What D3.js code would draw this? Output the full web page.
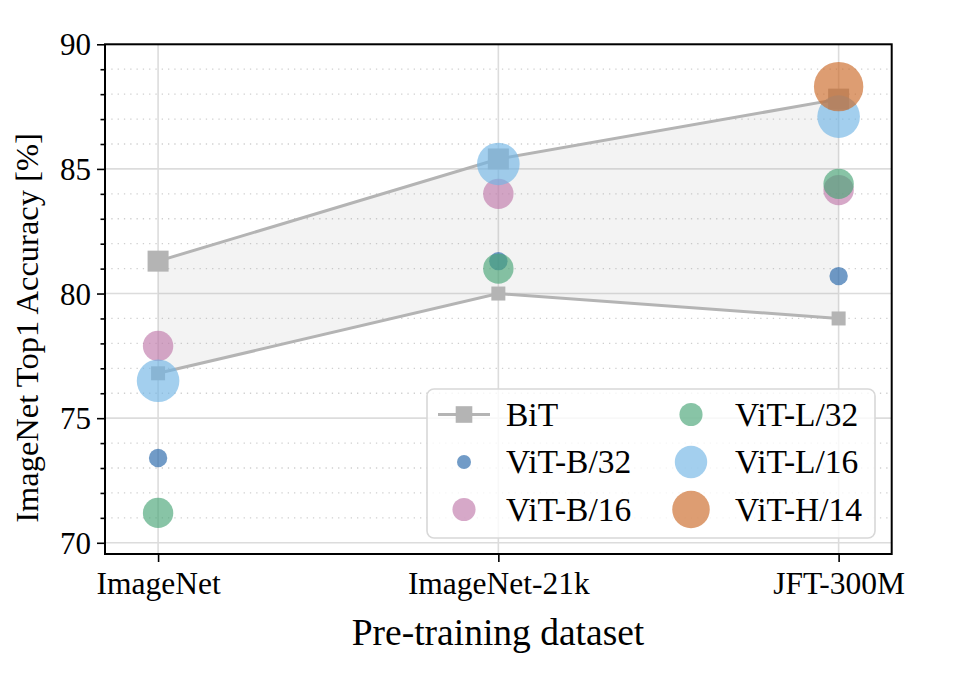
<!DOCTYPE html>
<html><head><meta charset="utf-8">
<script src="https://cdn.jsdelivr.net/npm/d3@7"></script>
<style>body{margin:0;background:#fff}svg{display:block}text{font-family:"Liberation Serif","Times New Roman",serif;fill:#000}</style>
</head><body><svg id="c" width="953" height="698"></svg>
<script>
const categories = ["ImageNet", "ImageNet-21k", "JFT-300M"];
const bitUpper = [81.3, 85.4, 87.8];
const bitLower = [76.8, 80.0, 79.0];
const vitB32 = [73.4, 81.3, 80.7];
const vitB16 = [77.9, 84.0, 84.15];
const vitL32 = [71.2, 81.0, 84.4];
const vitL16 = [76.5, 85.2, 87.1];
const vitH14 = [null, null, 88.3];
const yTicks = [70, 75, 80, 85, 90];
const yMinor = [70,71,72,73,74,75,76,77,78,79,80,81,82,83,84,85,86,87,88,89,90];

const series = [
  {name: "ViT-B/32", values: vitB32, color: "#2565a9", r: 9.2},
  {name: "ViT-B/16", values: vitB16, color: "#c079aa", r: 15.2},
  {name: "ViT-L/32", values: vitL32, color: "#48a476", r: 15.2},
  {name: "ViT-L/16", values: vitL16, color: "#71b5e5", r: 21.3},
  {name: "ViT-H/14", values: vitH14, color: "#cb6826", r: 24.7}
];
const ALPHA = 0.65;
const BITC = "#b4b4b4";

const svg = d3.select("#c");
const L = 105, R = 891.7, T = 44.3, B = 554;
const x = d3.scaleLinear().domain([-0.156, 2.156]).range([L, R]);
const y = d3.scaleLinear().domain([69.55, 90]).range([B, T]);

// grid
const g = svg.append("g");
g.selectAll(".mi").data(yMinor.filter(v => !yTicks.includes(v))).join("line")
  .attr("x1", L).attr("x2", R).attr("y1", d => y(d)).attr("y2", d => y(d))
  .attr("stroke", "#cfcfcf").attr("stroke-width", 1.3).attr("stroke-dasharray", "1.3,5");
g.selectAll(".ma").data(yTicks).join("line")
  .attr("x1", L).attr("x2", R).attr("y1", d => y(d)).attr("y2", d => y(d))
  .attr("stroke", "#dcdcdc").attr("stroke-width", 1.6);
g.selectAll(".vx").data(categories).join("line")
  .attr("x1", (d,i) => x(i)).attr("x2", (d,i) => x(i)).attr("y1", T).attr("y2", B)
  .attr("stroke", "#dcdcdc").attr("stroke-width", 1.6);

// BiT band
const idx = categories.map((d,i) => i);
const area = d3.area().x(i => x(i)).y0(i => y(bitLower[i])).y1(i => y(bitUpper[i]));
svg.append("path").attr("d", area(idx)).attr("fill", "#a0a0a0").attr("fill-opacity", 0.12);
const line = d3.line().x(d => x(d[0])).y(d => y(d[1]));
[[bitUpper, 21], [bitLower, 14]].forEach(([vals, s]) => {
  svg.append("path").attr("d", line(vals.map((v,i) => [i, v])))
    .attr("fill", "none").attr("stroke", BITC).attr("stroke-width", 3);
  svg.selectAll(null).data(vals).join("rect")
    .attr("x", (d,i) => x(i) - s/2).attr("y", d => y(d) - s/2)
    .attr("width", s).attr("height", s).attr("fill", BITC);
});

// scatter
series.forEach(s => {
  svg.append("g").selectAll("circle")
    .data(s.values.map((v,i) => [i, v]).filter(d => d[1] != null))
    .join("circle").attr("cx", d => x(d[0])).attr("cy", d => y(d[1]))
    .attr("r", s.r).attr("fill", s.color).attr("fill-opacity", ALPHA);
});

// axes
const yAx = svg.append("g").attr("transform", `translate(${L},0)`)
  .call(d3.axisLeft(y).tickValues(yTicks).tickSize(8).tickPadding(6).tickFormat(d3.format("d")));
yAx.selectAll(".tick text").style("font-size", "31px").attr("dy", "0.34em");
svg.append("g").attr("transform", `translate(${L},0)`)
  .call(d3.axisLeft(y).tickValues(yMinor.filter(v => !yTicks.includes(v))).tickSize(4.5).tickFormat(""))
  .select(".domain").remove();
const xAx = svg.append("g").attr("transform", `translate(0,${B})`)
  .call(d3.axisBottom(x).tickValues(idx).tickSize(8).tickPadding(10).tickFormat(i => categories[i]));
xAx.selectAll(".tick text").style("font-size", "31.5px");
[yAx, xAx].forEach(a => { a.select(".domain").remove(); });
svg.selectAll(".tick line").attr("stroke", "#000").attr("stroke-width", 1.6);
svg.append("rect").attr("x", L).attr("y", T).attr("width", R - L).attr("height", B - T)
  .attr("fill", "none").attr("stroke", "#000").attr("stroke-width", 2);

svg.append("text").attr("x", 498).attr("y", 645).attr("text-anchor", "middle")
  .style("font-size", "37.5px").text("Pre-training dataset");
svg.append("text").attr("transform", `translate(38,328) rotate(-90)`)
  .attr("text-anchor", "middle").style("font-size", "32.5px").text("ImageNet Top1 Accuracy [%]");

// legend
const lg = svg.append("g");
lg.append("rect").attr("x", 427).attr("y", 389).attr("width", 448).attr("height", 149)
  .attr("rx", 7).attr("fill", "#fff").attr("fill-opacity", 0.8)
  .attr("stroke", "#d8d8d8").attr("stroke-width", 1.6);
const entries = [{name: "BiT", bit: true}].concat(series);
entries.forEach((e, k) => {
  const col = Math.floor(k / 3), row = k % 3;
  const cx = col === 0 ? 464 : 691, cy = 414.5 + row * 47.5;
  const tx = col === 0 ? 506 : 735;
  if (e.bit) {
    lg.append("line").attr("x1", 438).attr("x2", 490).attr("y1", cy).attr("y2", cy)
      .attr("stroke", BITC).attr("stroke-width", 3);
    lg.append("rect").attr("x", cx - 8.3).attr("y", cy - 8.3).attr("width", 16.6).attr("height", 16.6).attr("fill", BITC);
  } else {
    lg.append("circle").attr("cx", cx).attr("cy", cy).attr("r", e.r * 0.76)
      .attr("fill", e.color).attr("fill-opacity", ALPHA);
  }
  lg.append("text").attr("x", tx).attr("y", cy + 11).style("font-size", "33.5px").text(e.name);
});
</script></body></html>
